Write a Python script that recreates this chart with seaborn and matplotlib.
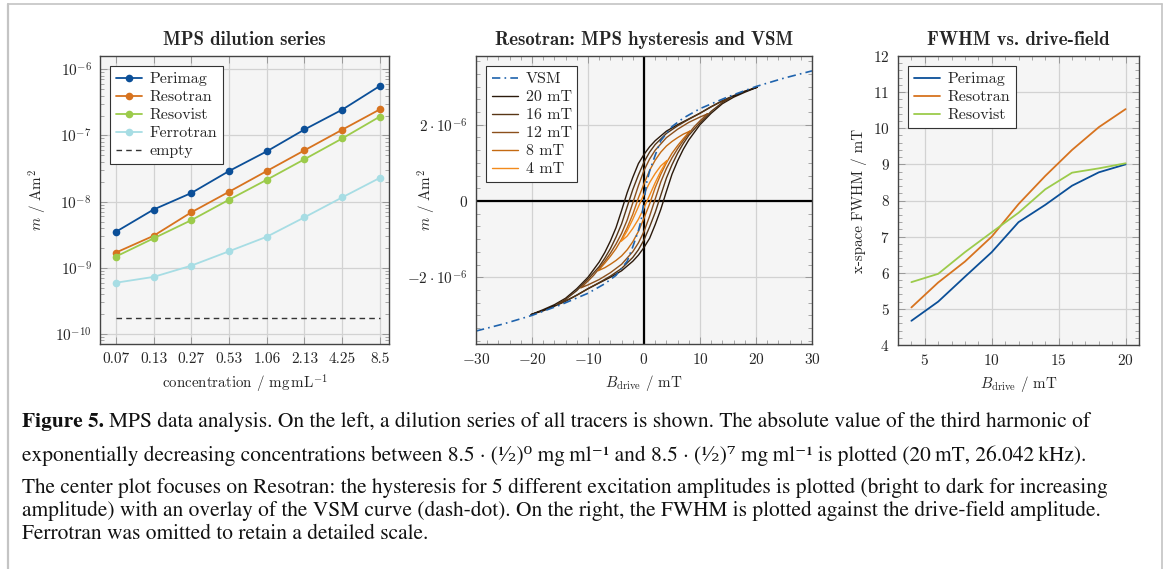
import matplotlib
matplotlib.use("Agg")
import matplotlib.pyplot as plt
import matplotlib.ticker as mticker
from matplotlib.lines import Line2D
import seaborn as sns

# --- left: MPS dilution series ---
conc_labels = ["0.07", "0.13", "0.27", "0.53", "1.06", "2.13", "4.25", "8.5"]
perimag_m = [3.5e-9, 7.6e-9, 1.35e-8, 2.9e-8, 5.75e-8, 1.23e-7, 2.45e-7, 5.6e-7]
resotran_m = [1.7e-9, 3.05e-9, 6.9e-9, 1.41e-8, 2.9e-8, 5.96e-8, 1.22e-7, 2.48e-7]
resovist_m = [1.48e-9, 2.79e-9, 5.25e-9, 1.07e-8, 2.14e-8, 4.37e-8, 9.0e-8, 1.93e-7]
ferrotran_m = [5.96e-10, 7.3e-10, 1.08e-9, 1.78e-9, 2.95e-9, 5.8e-9, 1.16e-8, 2.29e-8]
empty_m = [1.75e-10, 1.75e-10, 1.75e-10, 1.75e-10, 1.75e-10, 1.75e-10, 1.75e-10, 1.75e-10]

# --- middle: Resotran hysteresis (descending branch, in 1e-6 Am^2) + VSM ---
vsm_b = [-30, -25, -20, -15, -10, -7, -5, -3, -2, -1, -0.5, 0, 0.5, 1, 2, 3, 5, 7, 10, 15, 20, 25, 30]
vsm_m = [-3.41, -3.22, -3.0, -2.73, -2.42, -2.17, -1.95, -1.58, -1.2, -0.78, -0.5, 0.0,
         0.5, 0.78, 1.2, 1.58, 1.95, 2.17, 2.42, 2.73, 3.0, 3.22, 3.41]

b20 = [20.2, 18, 16, 14, 12, 10, 8, 6, 4, 2, 1, 0, -1, -2, -3, -4, -5, -6, -7, -8, -9, -10, -12, -14, -16, -18, -20.2]
m20 = [2.98, 2.88, 2.76, 2.63, 2.47, 2.30, 2.15, 2.0, 1.83, 1.58, 1.42, 1.22, 0.98, 0.62, 0.22, -0.25,
       -0.7, -1.05, -1.35, -1.6, -1.8, -2.0, -2.3, -2.55, -2.72, -2.85, -2.98]
b16 = [15.4, 14, 12, 10, 8, 6, 4, 2, 1, 0, -1, -2, -3, -4, -5, -6, -7, -8, -10, -12, -14, -15.4]
m16 = [2.70, 2.62, 2.47, 2.30, 2.14, 1.97, 1.77, 1.48, 1.28, 1.02, 0.68, 0.3, -0.15, -0.6, -0.95,
       -1.25, -1.5, -1.72, -2.05, -2.35, -2.58, -2.70]
b12 = [11.3, 10, 8, 6, 4, 2, 1, 0, -1, -2, -3, -4, -5, -6, -7, -8, -9, -10, -11.3]
m12 = [2.28, 2.2, 2.06, 1.88, 1.66, 1.33, 1.1, 0.8, 0.4, -0.05, -0.5, -0.85, -1.13, -1.37, -1.58,
       -1.77, -1.95, -2.1, -2.28]
b8 = [8.2, 7, 6, 5, 4, 3, 2, 1, 0, -1, -2, -3, -4, -5, -6, -7, -8.2]
m8 = [1.83, 1.75, 1.66, 1.56, 1.44, 1.28, 1.07, 0.8, 0.45, 0.08, -0.35, -0.7, -1.0, -1.25, -1.45, -1.63, -1.83]
b4 = [4.1, 3, 2, 1, 0, -1, -2, -3, -4.1]
m4 = [1.06, 0.92, 0.72, 0.48, 0.18, -0.15, -0.48, -0.78, -1.06]
amp_labels = ["20 mT", "16 mT", "12 mT", "8 mT", "4 mT"]

# --- right: FWHM vs drive field ---
drive = [4, 6, 8, 10, 12, 14, 16, 18, 20]
fwhm_perimag = [4.67, 5.20, 5.89, 6.57, 7.40, 7.88, 8.41, 8.78, 9.00]
fwhm_resotran = [5.04, 5.73, 6.31, 7.00, 7.90, 8.68, 9.40, 10.03, 10.53]
fwhm_resovist = [5.74, 5.97, 6.57, 7.12, 7.66, 8.31, 8.77, 8.89, 9.03]

c_perimag = "#0b4f98"
c_resotran = "#d7731f"
c_resovist = "#9ccb4b"
c_ferrotran = "#a7dde4"
c_vsm = "#1f63ad"
loop_colors = ["#2b1a0c", "#583616", "#8c501c", "#c46a12", "#f28a1c"]

sns.set_style("ticks")
plt.rcParams["font.family"] = ["cmr10", "DejaVu Serif"]
plt.rcParams["mathtext.fontset"] = "cm"
plt.rcParams["axes.formatter.use_mathtext"] = True
plt.rcParams["axes.unicode_minus"] = True

TICK = 11
LAB = 10.8
TITLE = 13.5
LEG = 11.5

W, H = 1165, 569
fig = plt.figure(figsize=(W / 100, H / 100), dpi=100)


def box(x0, y0, x1, y1):
    return [x0 / W, 1 - y1 / H, (x1 - x0) / W, (y1 - y0) / H]


def style_axes(ax):
    ax.set_facecolor("#f5f5f5")
    for s in ax.spines.values():
        s.set_color("#444444")
        s.set_linewidth(1.0)
    ax.grid(True, which="major", color="#d2d2d2", lw=0.9)
    ax.set_axisbelow(True)
    ax.tick_params(which="both", direction="in", top=True, right=True, color="#999999",
                   labelsize=TICK, pad=6)
    ax.tick_params(which="major", length=5, width=0.7)
    ax.tick_params(which="minor", length=3, width=0.6)


def legend(ax, handles, labels, pad):
    lg = ax.legend(handles, labels, loc="upper left", fontsize=LEG, frameon=True, fancybox=False,
                   framealpha=1, edgecolor="#333333", borderaxespad=pad, handlelength=1.6,
                   handletextpad=0.5, labelspacing=0.24, borderpad=0.35)
    lg.get_frame().set_linewidth(0.8)
    return lg


# left
ax1 = fig.add_axes(box(100, 56, 389, 344))
style_axes(ax1)
pos = list(range(len(conc_labels)))
series = [("Perimag", perimag_m, c_perimag), ("Resotran", resotran_m, c_resotran),
          ("Resovist", resovist_m, c_resovist), ("Ferrotran", ferrotran_m, c_ferrotran)]
h1 = []
for name, vals, col in series:
    sns.lineplot(x=pos, y=vals, ax=ax1, color=col, lw=1.3, marker="o", markersize=5.5,
                 markeredgewidth=0, sort=False, estimator=None)
    h1.append(Line2D([], [], color=col, lw=1.3, marker="o", markersize=5.5, markeredgewidth=0))
sns.lineplot(x=pos, y=empty_m, ax=ax1, color="#333333", lw=1.0, linestyle=(0, (4, 3)))
h1.append(Line2D([], [], color="#333333", lw=1.0, linestyle=(0, (4, 3))))
ax1.set_yscale("log")
ax1.set_ylim(10 ** -10.15, 10 ** -5.8)
ax1.set_xlim(-0.42, 7.24)
ax1.set_xticks(pos)
ax1.set_xticklabels(conc_labels)
ax1.yaxis.set_major_locator(mticker.LogLocator(base=10, numticks=10))
ax1.yaxis.set_minor_locator(mticker.LogLocator(base=10, subs=range(2, 10), numticks=20))
ax1.yaxis.set_minor_formatter(mticker.NullFormatter())
ax1.set_title("MPS dilution series", fontfamily="cmb10", fontsize=TITLE, pad=8)
ax1.set_xlabel(r"concentration / mg$\,$mL$^{-1}$", fontsize=LAB, labelpad=5)
ax1.set_ylabel(r"$m$ / Am$^2$", fontsize=LAB)
ax1.yaxis.set_label_coords(-0.176, 0.5)
legend(ax1, h1, ["Perimag", "Resotran", "Resovist", "Ferrotran", "empty"], 0.65)

# middle
ax2 = fig.add_axes(box(476, 56, 812, 344))
style_axes(ax2)
ax2.axhline(0, color="black", lw=1.6, zorder=1.5)
ax2.axvline(0, color="black", lw=1.6, zorder=1.5)
loops = [(b20, m20), (b16, m16), (b12, m12), (b8, m8), (b4, m4)]
h2 = [Line2D([], [], color=c_vsm, lw=1.2, linestyle=(0, (5, 2.5, 1, 2.5)))]
for (bu, mu), col in zip(loops, loop_colors):
    # descending branch followed by the point-mirrored ascending branch
    bx = bu + [-v for v in bu]
    my = [v * 1e-6 for v in mu] + [-v * 1e-6 for v in mu]
    sns.lineplot(x=bx, y=my, ax=ax2, color=col, lw=1.0, sort=False, estimator=None)
    h2.append(Line2D([], [], color=col, lw=1.0))
sns.lineplot(x=vsm_b, y=[v * 1e-6 for v in vsm_m], ax=ax2, color=c_vsm, lw=1.2,
             linestyle=(0, (5, 2.5, 1, 2.5)), sort=False, estimator=None)
ax2.set_xlim(-30, 30)
ax2.set_ylim(-3.75e-6, 3.8e-6)
ax2.xaxis.set_major_locator(mticker.MultipleLocator(10))
ax2.xaxis.set_minor_locator(mticker.MultipleLocator(2))
ax2.set_yticks([-2e-6, 0, 2e-6])
ax2.set_yticklabels([r"$-2\cdot10^{-6}$", r"$0$", r"$2\cdot10^{-6}$"])
ax2.yaxis.set_minor_locator(mticker.MultipleLocator(2e-6 / 6))
ax2.set_title("Resotran: MPS hysteresis and VSM", fontfamily="cmb10", fontsize=TITLE, pad=8)
ax2.set_xlabel(r"$B_\mathrm{drive}$ / mT", fontsize=LAB, labelpad=4)
ax2.set_ylabel(r"$m$ / Am$^2$", fontsize=LAB)
ax2.yaxis.set_label_coords(-0.113, 0.5)
legend(ax2, h2, ["VSM"] + amp_labels, 0.65)

# right
ax3 = fig.add_axes(box(898, 56, 1139, 345))
style_axes(ax3)
h3 = []
for name, vals, col in [("Perimag", fwhm_perimag, c_perimag), ("Resotran", fwhm_resotran, c_resotran),
                        ("Resovist", fwhm_resovist, c_resovist)]:
    sns.lineplot(x=drive, y=vals, ax=ax3, color=col, lw=1.3, sort=False, estimator=None)
    h3.append(Line2D([], [], color=col, lw=1.3))
ax3.set_xlim(3, 21)
ax3.set_ylim(4, 12)
ax3.xaxis.set_major_locator(mticker.MultipleLocator(5))
ax3.xaxis.set_minor_locator(mticker.MultipleLocator(1))
ax3.yaxis.set_major_locator(mticker.MultipleLocator(1))
ax3.yaxis.set_minor_locator(mticker.MultipleLocator(0.2))
ax3.set_title("FWHM vs. drive-field", fontfamily="cmb10", fontsize=TITLE, pad=8)
ax3.set_xlabel(r"$B_\mathrm{drive}$ / mT", fontsize=LAB, labelpad=4)
ax3.set_ylabel("x-space FWHM / mT", fontsize=LAB)
ax3.yaxis.set_label_coords(-0.129, 0.5)
legend(ax3, h3, ["Perimag", "Resotran", "Resovist"], 0.65)

# caption (plain text with unicode super/subscripts, no mathtext)
cap_font = ["STIXGeneral", "DejaVu Serif"]
cap_size = 15.4
cap_col = "#111111"
head = fig.text(22 / W, 1 - 422 / H, "Figure 5.", fontfamily=cap_font, fontweight="bold",
                fontsize=cap_size, va="center", ha="left", color=cap_col)
fig.canvas.draw()
hx = head.get_window_extent().x1
fig.text((hx + 5) / W, 1 - 422 / H,
         "MPS data analysis. On the left, a dilution series of all tracers is shown. "
         "The absolute value of the third harmonic of",
         fontfamily=cap_font, fontsize=cap_size, va="center", ha="left", color=cap_col)
cap = [
    (456, "exponentially decreasing concentrations between 8.5 \u00b7 (\u00b9\u2044\u2082)\u2070 mg\u2009ml\u207b\u00b9"
          " and 8.5 \u00b7 (\u00b9\u2044\u2082)\u2077 mg\u2009ml\u207b\u00b9 is plotted (20\u2009mT, 26.042\u2009kHz)."),
    (488, "The center plot focuses on Resotran: the hysteresis for 5 different excitation amplitudes is plotted "
          "(bright to dark for increasing"),
    (511, "amplitude) with an overlay of the VSM curve (dash-dot). On the right, the FWHM is plotted "
          "against the drive-field amplitude."),
    (534, "Ferrotran was omitted to retain a detailed scale."),
]
for y, txt in cap:
    fig.text(22 / W, 1 - y / H, txt, fontfamily=cap_font, fontsize=cap_size,
             va="center", ha="left", color=cap_col)

# page frame
fc = "#c4c4c4"
fig.add_artist(Line2D([8 / W, 8 / W], [0, 1 - 4 / H], transform=fig.transFigure, color=fc, lw=1.6))
fig.add_artist(Line2D([8 / W, 1162 / W], [1 - 4 / H, 1 - 4 / H], transform=fig.transFigure, color=fc, lw=1.2))
fig.add_artist(Line2D([1162 / W, 1162 / W], [0, 1 - 4 / H], transform=fig.transFigure, color=fc, lw=1.2))

fig.savefig("out.png", dpi=100)
